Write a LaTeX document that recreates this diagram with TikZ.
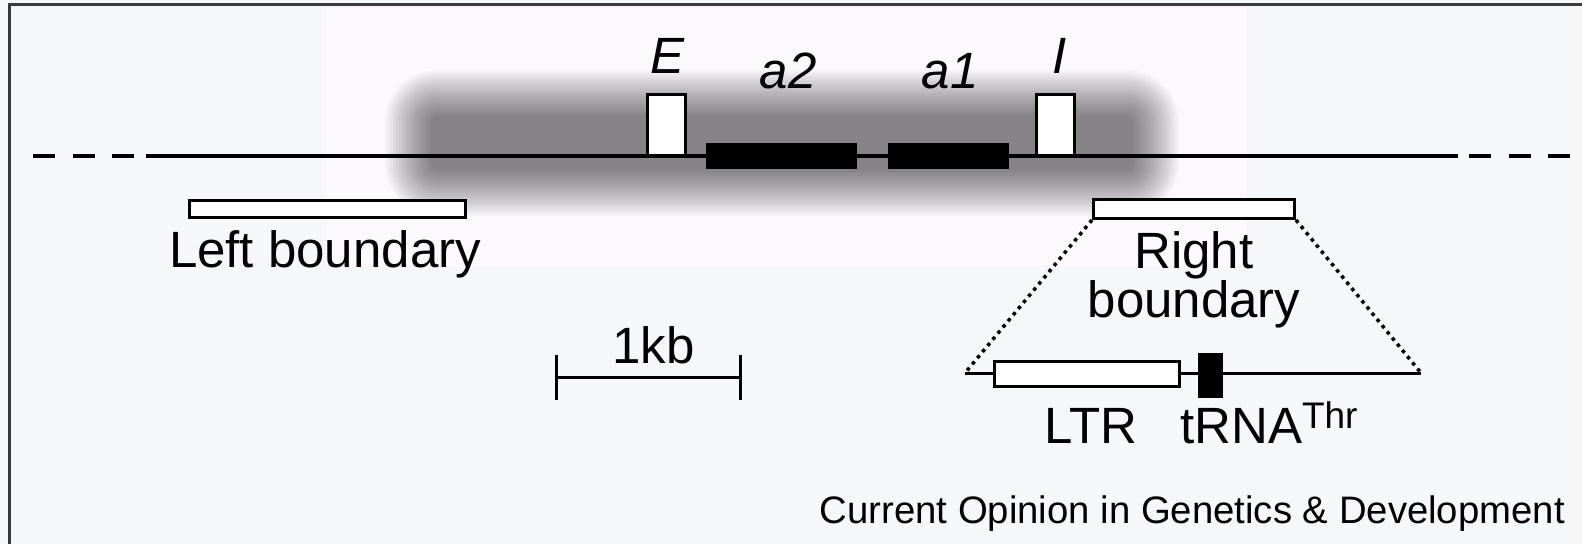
\documentclass[tikz,border=0pt]{standalone}
\usepackage{fontspec}
\setmainfont{Liberation Sans}
\definecolor{pagebg}{HTML}{F6F7F9}
\definecolor{panelbg}{HTML}{FCF9FC}
\definecolor{framecol}{HTML}{3A3A3A}
\tikzset{
  lbl/.style={font=\fontsize{51}{45}\selectfont, inner sep=0pt, anchor=base},
  gene/.style={font=\fontsize{51}{51}\selectfont\itshape, inner sep=0pt, anchor=base},
  openbox/.style={draw=black, fill=white, line width=3pt, inner sep=0pt},
  solidbox/.style={draw=black, fill=black, line width=3pt, inner sep=0pt},
  dna/.style={line width=3.5pt},
  dnaend/.style={line width=3.5pt, dash pattern=on 22pt off 17.5pt},
  zoomline/.style={line width=3.5pt, dash pattern=on 3.5pt off 4.5pt},
}
\begin{document}
\begin{tikzpicture}[x=1pt, y=-1pt]
  % page and framing
  \fill[pagebg] (0,0) rectangle (1582,544);
  \useasboundingbox (0,0) rectangle (1582,544);
  \fill[panelbg] (326,8) rectangle (1247,266);
  \draw[framecol, line width=3pt] (9,544) -- (9,4) -- (1582,4);

  % silenced chromatin: soft grey halo built from stacked translucent layers
  \foreach \k in {0,...,23}{
    \pgfmathsetmacro\ins{\k*2}
    \pgfmathsetmacro\rad{(24-\k)*2+4}
    \fill[black, fill opacity=0.0233, rounded corners=\rad pt]
      ({385+\ins},{70+\ins}) rectangle ({1179-\ins},{216-\ins});
  }

  % chromosome line
  \coordinate (dl0) at (33,156);
  \coordinate (dl1) at (134,156);
  \coordinate (sl0) at (146,156);
  \coordinate (sl1) at (1458,156);
  \coordinate (dr0) at (1469,156);
  \coordinate (dr1) at (1570,156);
  \draw[dnaend] (dl0) -- (dl1);
  \draw[dna] (sl0) -- (sl1);
  \draw[dnaend] (dr0) -- (dr1);

  % silencers and genes
  \node[openbox, minimum width=38pt, minimum height=61pt] (E) at (666.5,124.5) {};
  \node[openbox, minimum width=38pt, minimum height=61pt] (I) at (1055.5,124.5) {};
  \node[solidbox, minimum width=148pt, minimum height=23pt] (a2) at (781.5,156) {};
  \node[solidbox, minimum width=118pt, minimum height=23pt] (a1) at (948.5,156) {};
  \node[gene] (Elab) at (668,73) {E};
  \node[gene] (a2lab) at (788,88) {a2};
  \node[gene] (a1lab) at (950,88) {a1};
  \node[gene] (Ilab) at (1060,73) {I};

  % boundary elements
  \node[openbox, minimum width=276pt, minimum height=17pt] (lb) at (327.5,209) {};
  \node[lbl] (lblab) at (325,267) {Left boundary};
  \node[openbox, minimum width=201pt, minimum height=19pt] (rb) at (1194,209) {};
  \node[lbl, align=center] (rblab) at (1194,317) {Right\\boundary};

  % enlarged right boundary
  \coordinate (zl) at (965,373);
  \coordinate (zr) at (1421,373);
  \draw[line width=3pt] (zl) -- (zr);
  \draw[zoomline] (rb.south west) -- (zl);
  \draw[zoomline] (rb.south east) -- (zr);
  \node[openbox, minimum width=185pt, minimum height=25pt] (ltr) at (1087,374) {};
  \node[solidbox, minimum width=22pt, minimum height=42pt] (trna) at (1210.5,375.5) {};
  \node[lbl] (ltrlab) at (1091,443) {LTR};
  \node[lbl, anchor=base west] (trnalab) at (1180,443)
    {tRNA\raisebox{15pt}{\fontsize{37}{37}\selectfont Thr}};

  % scale bar
  \coordinate (s0) at (556,377);
  \coordinate (s1) at (740,377);
  \draw[line width=3pt] (s0) -- (s1);
  \draw[line width=3pt] ([yshift=22pt]s0) -- ([yshift=-23pt]s0);
  \draw[line width=3pt] ([yshift=22pt]s1) -- ([yshift=-23pt]s1);
  \node[lbl] (kb) at (653.5,363) {1kb};

  % journal credit
  \node[inner sep=0pt, anchor=base east, font=\fontsize{38.3}{40}\selectfont] (credit)
    at (1565,523) {Current Opinion in Genetics \& Development};
\end{tikzpicture}
\end{document}
